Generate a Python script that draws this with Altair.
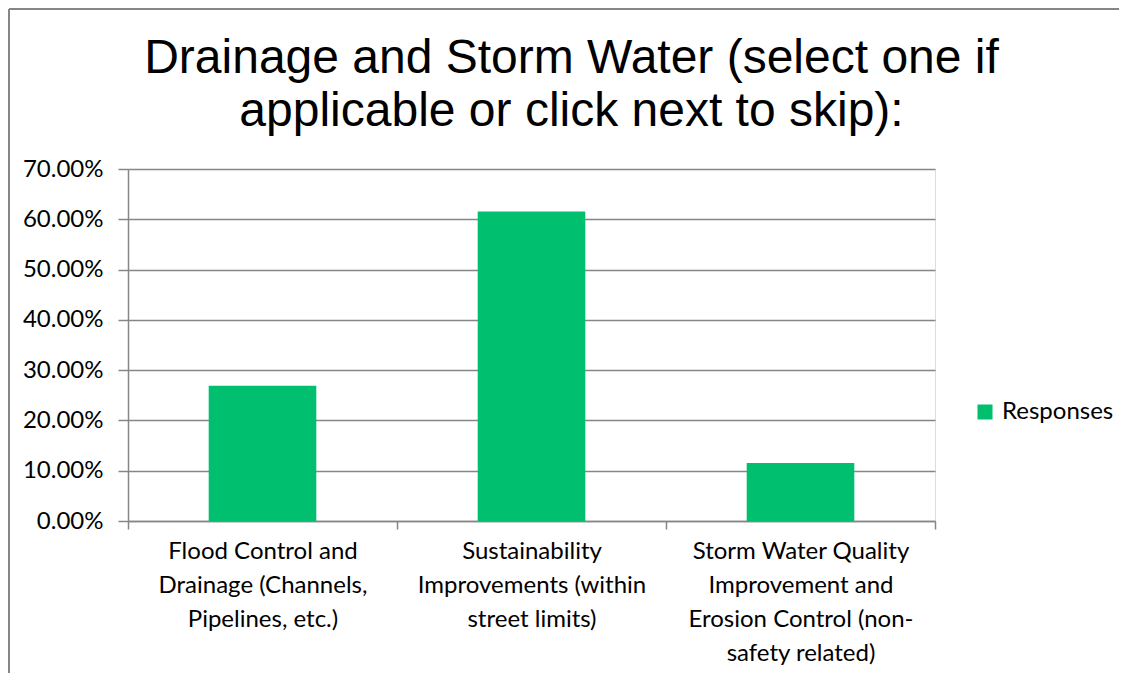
import altair as alt
import pandas as pd

categories = [
    "Flood Control and\nDrainage (Channels,\nPipelines, etc.)",
    "Sustainability\nImprovements (within\nstreet limits)",
    "Storm Water Quality\nImprovement and\nErosion Control (non-\nsafety related)",
]
values = [0.2692, 0.6154, 0.1154]
series = ["Responses", "Responses", "Responses"]
title_lines = ["Drainage and Storm Water (select one if", "applicable or click next to skip):"]

df = pd.DataFrame({"category": categories, "value": values, "series": series})

W, H = 807, 352
PL, PT, PR, PB = 120, 161, 184, 152
GRID = "#868686"

bars = alt.Chart(df).mark_bar(color="#00BF6F", width=alt.RelativeBandSize(0.4)).encode(
    x=alt.X(
        "category:N",
        sort=categories,
        scale=alt.Scale(paddingInner=0, paddingOuter=0),
        axis=alt.Axis(
            title=None,
            labelAngle=0,
            labelExpr="isValid(datum.value) ? split(datum.value, '\\n') : ''",
            labelFont="Lato",
            labelFontSize=24,
            labelColor="#000000",
            labelLineHeight=34,
            labelLimit=0,
            labelPadding=10,
            labelBaseline="top",
            tickBand="extent",
            tickSize=8,
            tickColor=GRID,
            tickWidth=1.5,
            domainColor=GRID,
            domainWidth=1.5,
            grid=False,
        ),
    ),
    y=alt.Y(
        "value:Q",
        scale=alt.Scale(domain=[0, 0.7], nice=False),
        axis=alt.Axis(
            title=None,
            values=[0, 0.1, 0.2, 0.3, 0.4, 0.5, 0.6, 0.7],
            format=".2%",
            labelFont="Lato",
            labelFontSize=24,
            labelColor="#000000",
            labelPadding=15,
            tickSize=10,
            tickColor=GRID,
            tickWidth=1.5,
            domainColor=GRID,
            domainWidth=1.5,
            grid=True,
            gridColor=GRID,
            gridWidth=1.5,
        ),
    ),
    color=alt.Color(
        "series:N",
        scale=alt.Scale(domain=["Responses"], range=["#00BF6F"]),
        legend=alt.Legend(
            title=None,
            orient="none",
            legendX=845,
            legendY=231,
            symbolType="square",
            symbolSize=225,
            symbolStrokeWidth=0,
            labelFont="Lato",
            labelFontSize=24,
            labelColor="#000000",
            labelOffset=5,
        ),
    ),
)

border_df = pd.DataFrame({"a": [0]})
left_border = alt.Chart(border_df).mark_rule(color=GRID, strokeWidth=2).encode(
    x=alt.value(-119), y=alt.value(-160), y2=alt.value(H + PB)
)
top_border = alt.Chart(border_df).mark_rule(color=GRID, strokeWidth=2).encode(
    x=alt.value(-119), x2=alt.value(W + PR), y=alt.value(-160)
)

chart = alt.layer(bars, left_border, top_border).properties(
    width=W,
    height=H,
    padding={"left": PL, "top": PT, "right": PR, "bottom": PB},
    autosize=alt.AutoSizeParams(type="none"),
    title=alt.TitleParams(
        text=title_lines,
        font="Liberation Sans",
        fontSize=48,
        fontWeight="normal",
        color="#000000",
        lineHeight=53,
        anchor="middle",
        dx=40,
        offset=-128,
    ),
).configure_view(stroke=None).configure(background="white")

chart.save("out.html", embed_options={"renderer": "svg", "actions": False})
